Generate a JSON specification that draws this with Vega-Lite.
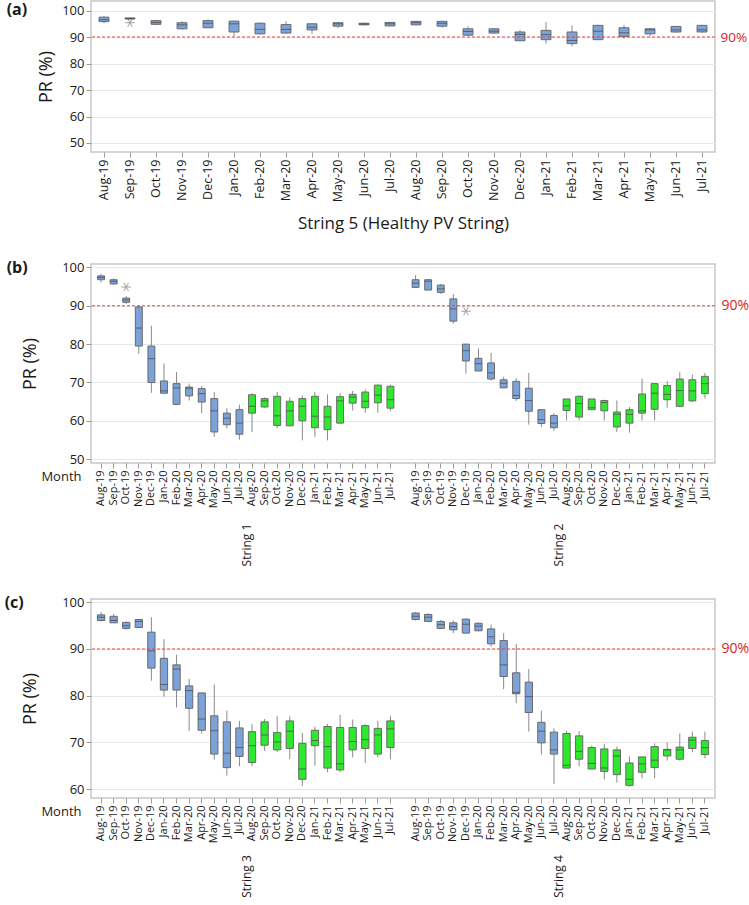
{
"$schema": "https://vega.github.io/schema/vega-lite/v6.json",
"padding": {"left": 3, "top": 0, "right": 0, "bottom": 0},
"spacing": 26,
"datasets": {
"string5": [
{"month":"Aug-19","min":95.3,"q1":95.8,"median":96.5,"q3":97.5,"max":98.0},
{"month":"Sep-19","min":96.6,"q1":96.8,"median":97.0,"q3":97.2,"max":97.3},
{"month":"Oct-19","min":94.5,"q1":94.8,"median":95.5,"q3":96.2,"max":96.5},
{"month":"Nov-19","min":92.9,"q1":93.1,"median":94.6,"q3":95.4,"max":95.9},
{"month":"Dec-19","min":93.4,"q1":93.5,"median":95.2,"q3":96.2,"max":96.6},
{"month":"Jan-20","min":90.2,"q1":91.9,"median":95.0,"q3":96.0,"max":96.2},
{"month":"Feb-20","min":91.0,"q1":91.2,"median":92.9,"q3":95.2,"max":95.5},
{"month":"Mar-20","min":91.2,"q1":91.5,"median":92.9,"q3":94.7,"max":96.0},
{"month":"Apr-20","min":91.2,"q1":92.7,"median":93.7,"q3":95.0,"max":95.2},
{"month":"May-20","min":93.4,"q1":94.1,"median":95.0,"q3":95.4,"max":95.7},
{"month":"Jun-20","min":94.4,"q1":94.6,"median":94.9,"q3":95.2,"max":95.4},
{"month":"Jul-20","min":94.0,"q1":94.2,"median":95.0,"q3":95.5,"max":95.7},
{"month":"Aug-20","min":94.4,"q1":94.6,"median":95.4,"q3":95.9,"max":96.2},
{"month":"Sep-20","min":93.5,"q1":94.1,"median":95.2,"q3":95.9,"max":96.2},
{"month":"Oct-20","min":90.5,"q1":90.7,"median":92.1,"q3":93.1,"max":94.0},
{"month":"Nov-20","min":91.2,"q1":91.5,"median":92.2,"q3":93.1,"max":93.4},
{"month":"Dec-20","min":88.5,"q1":88.6,"median":91.0,"q3":91.9,"max":92.7},
{"month":"Jan-21","min":87.5,"q1":89.0,"median":90.9,"q3":92.5,"max":95.6},
{"month":"Feb-21","min":86.5,"q1":87.5,"median":88.7,"q3":91.9,"max":94.4},
{"month":"Mar-21","min":89.0,"q1":89.0,"median":92.2,"q3":94.4,"max":94.6},
{"month":"Apr-21","min":89.4,"q1":90.2,"median":91.6,"q3":93.5,"max":94.6},
{"month":"May-21","min":90.2,"q1":91.2,"median":92.7,"q3":93.1,"max":93.5},
{"month":"Jun-21","min":91.6,"q1":91.9,"median":92.7,"q3":94.0,"max":94.2},
{"month":"Jul-21","min":91.5,"q1":91.9,"median":92.7,"q3":94.4,"max":94.6}
],
"faulty": [
{"string":"String 1","month":"Aug-19","year":"2019-20","min":96.1,"q1":96.8,"median":97.4,"q3":97.8,"max":98.3},
{"string":"String 1","month":"Sep-19","year":"2019-20","min":95.5,"q1":95.7,"median":96.4,"q3":96.8,"max":97.1},
{"string":"String 1","month":"Oct-19","year":"2019-20","min":90.5,"q1":90.9,"median":91.5,"q3":92.0,"max":92.5},
{"string":"String 1","month":"Nov-19","year":"2019-20","min":77.5,"q1":79.5,"median":84.2,"q3":89.7,"max":90.0},
{"string":"String 1","month":"Dec-19","year":"2019-20","min":67.3,"q1":70.0,"median":76.2,"q3":79.5,"max":84.8},
{"string":"String 1","month":"Jan-20","year":"2019-20","min":67.1,"q1":67.2,"median":67.8,"q3":70.4,"max":75.0},
{"string":"String 1","month":"Feb-20","year":"2019-20","min":64.1,"q1":64.3,"median":68.6,"q3":69.7,"max":72.7},
{"string":"String 1","month":"Mar-20","year":"2019-20","min":65.3,"q1":66.5,"median":68.5,"q3":68.8,"max":69.7},
{"string":"String 1","month":"Apr-20","year":"2019-20","min":62.0,"q1":64.9,"median":67.1,"q3":68.4,"max":69.1},
{"string":"String 1","month":"May-20","year":"2019-20","min":55.8,"q1":57.1,"median":62.6,"q3":65.8,"max":67.5},
{"string":"String 1","month":"Jun-20","year":"2019-20","min":58.0,"q1":59.0,"median":60.7,"q3":62.0,"max":63.3},
{"string":"String 1","month":"Jul-20","year":"2019-20","min":55.1,"q1":56.5,"median":59.4,"q3":62.9,"max":64.2},
{"string":"String 1","month":"Aug-20","year":"2020-21","min":57.1,"q1":62.0,"median":63.8,"q3":66.8,"max":67.2},
{"string":"String 1","month":"Sep-20","year":"2020-21","min":63.4,"q1":63.6,"median":65.2,"q3":65.8,"max":66.1},
{"string":"String 1","month":"Oct-20","year":"2020-21","min":58.1,"q1":58.8,"median":61.3,"q3":66.4,"max":67.5},
{"string":"String 1","month":"Nov-20","year":"2020-21","min":58.7,"q1":58.7,"median":62.6,"q3":65.1,"max":66.1},
{"string":"String 1","month":"Dec-20","year":"2020-21","min":54.9,"q1":60.0,"median":63.8,"q3":65.8,"max":66.6},
{"string":"String 1","month":"Jan-21","year":"2020-21","min":55.8,"q1":58.2,"median":61.2,"q3":66.4,"max":67.5},
{"string":"String 1","month":"Feb-21","year":"2020-21","min":54.9,"q1":57.7,"median":61.0,"q3":63.8,"max":66.9},
{"string":"String 1","month":"Mar-21","year":"2020-21","min":59.3,"q1":59.4,"median":65.2,"q3":66.3,"max":67.2},
{"string":"String 1","month":"Apr-21","year":"2020-21","min":62.7,"q1":64.6,"median":66.2,"q3":66.9,"max":67.8},
{"string":"String 1","month":"May-21","year":"2020-21","min":62.1,"q1":63.4,"median":65.1,"q3":67.5,"max":68.2},
{"string":"String 1","month":"Jun-21","year":"2020-21","min":62.1,"q1":64.7,"median":66.7,"q3":69.3,"max":69.5},
{"string":"String 1","month":"Jul-21","year":"2020-21","min":62.5,"q1":63.3,"median":65.5,"q3":69.0,"max":69.5},
{"string":"String 2","month":"Aug-19","year":"2019-20","min":94.6,"q1":94.8,"median":95.9,"q3":96.8,"max":98.0},
{"string":"String 2","month":"Sep-19","year":"2019-20","min":94.1,"q1":94.1,"median":96.4,"q3":96.8,"max":97.0},
{"string":"String 2","month":"Oct-19","year":"2019-20","min":93.1,"q1":93.5,"median":94.4,"q3":95.4,"max":95.7},
{"string":"String 2","month":"Nov-19","year":"2019-20","min":85.3,"q1":86.0,"median":89.2,"q3":91.8,"max":93.1},
{"string":"String 2","month":"Dec-19","year":"2019-20","min":72.3,"q1":75.6,"median":78.3,"q3":80.0,"max":80.0},
{"string":"String 2","month":"Jan-20","year":"2019-20","min":73.0,"q1":73.0,"median":74.9,"q3":76.3,"max":78.9},
{"string":"String 2","month":"Feb-20","year":"2019-20","min":70.5,"q1":70.9,"median":72.5,"q3":75.1,"max":77.7},
{"string":"String 2","month":"Mar-20","year":"2019-20","min":68.5,"q1":68.6,"median":69.8,"q3":70.7,"max":71.4},
{"string":"String 2","month":"Apr-20","year":"2019-20","min":65.2,"q1":65.8,"median":66.6,"q3":70.3,"max":71.1},
{"string":"String 2","month":"May-20","year":"2019-20","min":59.0,"q1":62.5,"median":65.3,"q3":68.5,"max":72.5},
{"string":"String 2","month":"Jun-20","year":"2019-20","min":58.4,"q1":59.3,"median":60.3,"q3":62.9,"max":62.9},
{"string":"String 2","month":"Jul-20","year":"2019-20","min":57.4,"q1":58.2,"median":59.4,"q3":61.4,"max":62.0},
{"string":"String 2","month":"Aug-20","year":"2020-21","min":60.1,"q1":62.7,"median":63.9,"q3":65.7,"max":65.7},
{"string":"String 2","month":"Sep-20","year":"2020-21","min":60.1,"q1":61.0,"median":64.5,"q3":66.4,"max":66.6},
{"string":"String 2","month":"Oct-20","year":"2020-21","min":62.9,"q1":62.9,"median":63.4,"q3":65.7,"max":65.7},
{"string":"String 2","month":"Nov-20","year":"2020-21","min":60.1,"q1":62.6,"median":64.8,"q3":65.3,"max":65.5},
{"string":"String 2","month":"Dec-20","year":"2020-21","min":57.1,"q1":58.4,"median":61.7,"q3":62.3,"max":65.3},
{"string":"String 2","month":"Jan-21","year":"2020-21","min":56.9,"q1":59.4,"median":61.7,"q3":62.9,"max":63.6},
{"string":"String 2","month":"Feb-21","year":"2020-21","min":60.1,"q1":62.0,"median":62.6,"q3":67.0,"max":71.0},
{"string":"String 2","month":"Mar-21","year":"2020-21","min":60.1,"q1":63.0,"median":67.2,"q3":69.7,"max":69.7},
{"string":"String 2","month":"Apr-21","year":"2020-21","min":63.4,"q1":65.5,"median":66.9,"q3":69.2,"max":70.4},
{"string":"String 2","month":"May-21","year":"2020-21","min":63.6,"q1":63.8,"median":67.9,"q3":70.9,"max":72.7},
{"string":"String 2","month":"Jun-21","year":"2020-21","min":64.9,"q1":65.2,"median":67.8,"q3":70.7,"max":72.1},
{"string":"String 2","month":"Jul-21","year":"2020-21","min":65.8,"q1":67.1,"median":69.7,"q3":71.6,"max":72.5},
{"string":"String 3","month":"Aug-19","year":"2019-20","min":95.9,"q1":96.1,"median":96.8,"q3":97.3,"max":97.9},
{"string":"String 3","month":"Sep-19","year":"2019-20","min":95.6,"q1":95.6,"median":96.1,"q3":97.0,"max":97.5},
{"string":"String 3","month":"Oct-19","year":"2019-20","min":94.1,"q1":94.4,"median":95.0,"q3":95.7,"max":95.9},
{"string":"String 3","month":"Nov-19","year":"2019-20","min":94.6,"q1":94.6,"median":95.9,"q3":96.3,"max":96.4},
{"string":"String 3","month":"Dec-19","year":"2019-20","min":83.2,"q1":85.9,"median":89.6,"q3":93.6,"max":96.8},
{"string":"String 3","month":"Jan-20","year":"2019-20","min":79.8,"q1":81.2,"median":82.4,"q3":88.0,"max":92.1},
{"string":"String 3","month":"Feb-20","year":"2019-20","min":77.5,"q1":81.2,"median":85.7,"q3":86.6,"max":88.8},
{"string":"String 3","month":"Mar-20","year":"2019-20","min":72.5,"q1":77.3,"median":81.1,"q3":82.1,"max":83.6},
{"string":"String 3","month":"Apr-20","year":"2019-20","min":71.9,"q1":72.6,"median":75.0,"q3":80.6,"max":80.6},
{"string":"String 3","month":"May-20","year":"2019-20","min":66.3,"q1":67.5,"median":72.5,"q3":75.7,"max":82.4},
{"string":"String 3","month":"Jun-20","year":"2019-20","min":62.9,"q1":64.6,"median":67.7,"q3":74.4,"max":76.8},
{"string":"String 3","month":"Jul-20","year":"2019-20","min":64.9,"q1":67.0,"median":68.9,"q3":73.1,"max":74.6},
{"string":"String 3","month":"Aug-20","year":"2020-21","min":64.9,"q1":65.7,"median":69.3,"q3":72.3,"max":73.9},
{"string":"String 3","month":"Sep-20","year":"2020-21","min":68.2,"q1":69.4,"median":71.6,"q3":74.4,"max":75.0},
{"string":"String 3","month":"Oct-20","year":"2020-21","min":67.9,"q1":68.4,"median":70.1,"q3":72.1,"max":75.6},
{"string":"String 3","month":"Nov-20","year":"2020-21","min":66.4,"q1":68.7,"median":72.4,"q3":74.6,"max":75.6},
{"string":"String 3","month":"Dec-20","year":"2020-21","min":60.7,"q1":62.1,"median":64.3,"q3":69.8,"max":72.0},
{"string":"String 3","month":"Jan-21","year":"2020-21","min":65.0,"q1":69.3,"median":70.4,"q3":72.6,"max":73.4},
{"string":"String 3","month":"Feb-21","year":"2020-21","min":63.6,"q1":64.5,"median":69.1,"q3":73.4,"max":73.9},
{"string":"String 3","month":"Mar-21","year":"2020-21","min":63.6,"q1":64.1,"median":65.4,"q3":73.2,"max":75.9},
{"string":"String 3","month":"Apr-21","year":"2020-21","min":66.8,"q1":68.4,"median":70.2,"q3":73.2,"max":74.9},
{"string":"String 3","month":"May-21","year":"2020-21","min":65.6,"q1":68.7,"median":70.6,"q3":73.6,"max":73.9},
{"string":"String 3","month":"Jun-21","year":"2020-21","min":66.8,"q1":67.5,"median":71.6,"q3":73.0,"max":74.6},
{"string":"String 3","month":"Jul-21","year":"2020-21","min":66.4,"q1":68.9,"median":72.9,"q3":74.6,"max":75.7},
{"string":"String 4","month":"Aug-19","year":"2019-20","min":96.1,"q1":96.3,"median":97.0,"q3":97.7,"max":97.9},
{"string":"String 4","month":"Sep-19","year":"2019-20","min":95.7,"q1":95.9,"median":96.8,"q3":97.4,"max":97.6},
{"string":"String 4","month":"Oct-19","year":"2019-20","min":94.4,"q1":94.4,"median":95.2,"q3":95.9,"max":96.2},
{"string":"String 4","month":"Nov-19","year":"2019-20","min":93.4,"q1":94.1,"median":94.8,"q3":95.6,"max":96.1},
{"string":"String 4","month":"Dec-19","year":"2019-20","min":93.3,"q1":93.4,"median":95.3,"q3":96.4,"max":96.5},
{"string":"String 4","month":"Jan-20","year":"2019-20","min":93.8,"q1":93.9,"median":94.9,"q3":95.5,"max":95.7},
{"string":"String 4","month":"Feb-20","year":"2019-20","min":90.5,"q1":91.1,"median":92.6,"q3":94.3,"max":95.2},
{"string":"String 4","month":"Mar-20","year":"2019-20","min":81.4,"q1":84.1,"median":86.6,"q3":91.8,"max":93.4},
{"string":"String 4","month":"Apr-20","year":"2019-20","min":78.4,"q1":80.4,"median":80.7,"q3":84.9,"max":91.1},
{"string":"String 4","month":"May-20","year":"2019-20","min":72.3,"q1":76.4,"median":79.8,"q3":82.9,"max":85.7},
{"string":"String 4","month":"Jun-20","year":"2019-20","min":67.4,"q1":69.9,"median":72.4,"q3":74.3,"max":76.8},
{"string":"String 4","month":"Jul-20","year":"2019-20","min":61.1,"q1":67.5,"median":68.4,"q3":72.2,"max":73.0},
{"string":"String 4","month":"Aug-20","year":"2020-21","min":64.5,"q1":64.5,"median":65.1,"q3":71.9,"max":72.5},
{"string":"String 4","month":"Sep-20","year":"2020-21","min":64.9,"q1":66.4,"median":68.1,"q3":71.4,"max":72.4},
{"string":"String 4","month":"Oct-20","year":"2020-21","min":64.3,"q1":64.3,"median":65.5,"q3":68.9,"max":69.3},
{"string":"String 4","month":"Nov-20","year":"2020-21","min":62.1,"q1":63.8,"median":64.5,"q3":68.6,"max":69.7},
{"string":"String 4","month":"Dec-20","year":"2020-21","min":61.4,"q1":63.1,"median":67.1,"q3":68.4,"max":69.1},
{"string":"String 4","month":"Jan-21","year":"2020-21","min":60.5,"q1":60.8,"median":62.1,"q3":65.6,"max":67.0},
{"string":"String 4","month":"Feb-21","year":"2020-21","min":62.3,"q1":63.6,"median":65.4,"q3":66.9,"max":66.9},
{"string":"String 4","month":"Mar-21","year":"2020-21","min":62.3,"q1":64.6,"median":66.2,"q3":69.1,"max":69.8},
{"string":"String 4","month":"Apr-21","year":"2020-21","min":66.1,"q1":67.1,"median":68.4,"q3":68.5,"max":70.0},
{"string":"String 4","month":"May-21","year":"2020-21","min":66.1,"q1":66.4,"median":68.4,"q3":69.0,"max":71.9},
{"string":"String 4","month":"Jun-21","year":"2020-21","min":67.9,"q1":68.7,"median":70.5,"q3":71.1,"max":72.3},
{"string":"String 4","month":"Jul-21","year":"2020-21","min":66.6,"q1":67.4,"median":68.9,"q3":70.4,"max":72.3}
],
"outliers": [
{"string":"String 5","month":"Sep-19","value":95.4},
{"string":"String 1","month":"Oct-19","value":94.9},
{"string":"String 2","month":"Dec-19","value":88.6}
],
"threshold": [{"pr": 90}]
},
"vconcat": [
{
"width": 624, "height": 151,
"title": {"text": "(a)", "anchor": "start", "frame": "bounds", "baseline": "top", "offset": -17, "dx": -31},
"layer": [
{"layer": [
{"data": {"name": "string5"},
 "encoding": {"x": {"field": "month", "type": "nominal", "title": "String 5 (Healthy PV String)", "scale": {"domain": ["Aug-19","Sep-19","Oct-19","Nov-19","Dec-19","Jan-20","Feb-20","Mar-20","Apr-20","May-20","Jun-20","Jul-20","Aug-20","Sep-20","Oct-20","Nov-20","Dec-20","Jan-21","Feb-21","Mar-21","Apr-21","May-21","Jun-21","Jul-21"], "paddingInner": 0, "paddingOuter": 0}, "axis": {"labelAngle": 270, "labelFontSize": 12.5, "titleFontSize": 17, "titlePadding": 14, "tickSize": 5, "labelPadding": 2}}},
 "layer": [
  {"mark": {"type": "rule", "color": "#8a8a8a"}, "encoding": {"y": {"field": "min", "type": "quantitative", "title": "PR (%)", "scale": {"domain": [46.6, 103.6], "nice": false, "zero": false}, "axis": {"values": [50, 60, 70, 80, 90, 100], "tickCount": 12, "labelOverlap": false, "titleFontSize": 18, "labelFontSize": 13, "titlePadding": 6, "tickSize": 5}}, "y2": {"field": "max"}}},
  {"mark": {"type": "bar", "width": {"band": 0.38}, "color": "#7ba3d9", "stroke": "#6a6a6a", "strokeWidth": 1}, "encoding": {"y": {"field": "q1", "type": "quantitative", "title": "PR (%)"}, "y2": {"field": "q3"}}},
  {"mark": {"type": "tick", "size": 10, "thickness": 1, "color": "#444444"}, "encoding": {"y": {"field": "median", "type": "quantitative", "title": "PR (%)"}}}
 ]},
{"data": {"name": "outliers"}, "transform": [{"filter": "datum.string === 'String 5'"}],
 "mark": {"type": "point", "shape": "M-1,0L1,0M-0.5,-0.866L0.5,0.866M-0.5,0.866L0.5,-0.866", "filled": false, "stroke": "#777777", "strokeWidth": 1, "size": 90},
 "encoding": {"x": {"field": "month", "type": "nominal", "title": "String 5 (Healthy PV String)", "axis": {"labelAngle": 270, "labelFontSize": 12.5, "titleFontSize": 17, "titlePadding": 14, "tickSize": 5, "labelPadding": 2}},
   "y": {"field": "value", "type": "quantitative", "title": "PR (%)", "axis": {"values": [50, 60, 70, 80, 90, 100], "tickCount": 12, "labelOverlap": false, "titleFontSize": 18, "labelFontSize": 13, "titlePadding": 6, "tickSize": 5}}}}
]},
{"data": {"name": "threshold"},
 "mark": {"type": "rule", "color": "#e8403a", "strokeDash": [3, 2], "strokeWidth": 1},
 "encoding": {"y": {"field": "pr", "type": "quantitative", "scale": {"domain": [46.6, 103.6], "nice": false, "zero": false}, "axis": {"orient": "right", "values": [90], "labelExpr": "'90%'", "labelColor": "#d81e1e", "labelFontSize": 13.5, "ticks": false, "grid": false, "title": null, "labelPadding": 5}}}}
],
"resolve": {"scale": {"y": "independent"}}
},
{
"width": 624, "height": 199,
"title": {"text": "(b)", "anchor": "start", "frame": "bounds", "baseline": "top", "offset": -15, "dx": -15},
"layer": [
{"layer": [
{"data": {"name": "faulty"},
 "transform": [{"filter": "datum.string === 'String 1' || datum.string === 'String 2'"}, {"calculate": "datum.string + '|' + datum.month", "as": "key"}],
 "encoding": {"x": {"field": "key", "type": "nominal", "title": "Month",
   "scale": {"domain": ["String 1|Aug-19","String 1|Sep-19","String 1|Oct-19","String 1|Nov-19","String 1|Dec-19","String 1|Jan-20","String 1|Feb-20","String 1|Mar-20","String 1|Apr-20","String 1|May-20","String 1|Jun-20","String 1|Jul-20","String 1|Aug-20","String 1|Sep-20","String 1|Oct-20","String 1|Nov-20","String 1|Dec-20","String 1|Jan-21","String 1|Feb-21","String 1|Mar-21","String 1|Apr-21","String 1|May-21","String 1|Jun-21","String 1|Jul-21"," ","String 2|Aug-19","String 2|Sep-19","String 2|Oct-19","String 2|Nov-19","String 2|Dec-19","String 2|Jan-20","String 2|Feb-20","String 2|Mar-20","String 2|Apr-20","String 2|May-20","String 2|Jun-20","String 2|Jul-20","String 2|Aug-20","String 2|Sep-20","String 2|Oct-20","String 2|Nov-20","String 2|Dec-20","String 2|Jan-21","String 2|Feb-21","String 2|Mar-21","String 2|Apr-21","String 2|May-21","String 2|Jun-21","String 2|Jul-21"], "paddingInner": 0, "paddingOuter": 0.3},
   "axis": {"labelAngle": 270, "labelFontSize": 11, "labelExpr": "indexof(datum.label, '|') > 0 ? split(datum.label, '|')[1] : ''", "titleAngle": 0, "titleAlign": "right", "titleBaseline": "top", "titleX": -10, "titleY": 7, "titleFontSize": 13, "tickSize": 5, "labelPadding": 2,
     "gridOpacity": {"condition": {"test": "datum.value === ' '", "value": 0}, "value": 1},
     "tickOpacity": {"condition": {"test": "datum.value === ' '", "value": 0}, "value": 1}}}},
 "layer": [
  {"mark": {"type": "rule", "color": "#8a8a8a"}, "encoding": {"y": {"field": "min", "type": "quantitative", "title": "PR (%)", "scale": {"domain": [49, 100.9], "nice": false, "zero": false}, "axis": {"values": [50, 60, 70, 80, 90, 100], "tickCount": 12, "labelOverlap": false, "titleFontSize": 18, "labelFontSize": 13, "titlePadding": 22, "tickSize": 5}}, "y2": {"field": "max"}}},
  {"mark": {"type": "bar", "width": {"band": 0.55}, "stroke": "#6a6a6a", "strokeWidth": 1}, "encoding": {"y": {"field": "q1", "type": "quantitative", "title": "PR (%)"}, "y2": {"field": "q3"}, "color": {"field": "year", "type": "nominal", "scale": {"domain": ["2019-20", "2020-21"], "range": ["#7ba3d9", "#2ee82e"]}, "legend": null}}},
  {"mark": {"type": "tick", "size": 7, "thickness": 1, "color": "#444444"}, "encoding": {"y": {"field": "median", "type": "quantitative", "title": "PR (%)"}}}
 ]},
{"data": {"name": "outliers"}, "transform": [{"filter": "datum.string === 'String 1' || datum.string === 'String 2'"}, {"calculate": "datum.string + '|' + datum.month", "as": "key"}],
 "mark": {"type": "point", "shape": "M-1,0L1,0M-0.5,-0.866L0.5,0.866M-0.5,0.866L0.5,-0.866", "filled": false, "stroke": "#777777", "strokeWidth": 1, "size": 90},
 "encoding": {"x": {"field": "key", "type": "nominal", "title": "Month",
   "axis": {"labelAngle": 270, "labelFontSize": 11, "labelExpr": "indexof(datum.label, '|') > 0 ? split(datum.label, '|')[1] : ''", "titleAngle": 0, "titleAlign": "right", "titleBaseline": "top", "titleX": -10, "titleY": 7, "titleFontSize": 13, "tickSize": 5, "labelPadding": 2,
     "gridOpacity": {"condition": {"test": "datum.value === ' '", "value": 0}, "value": 1},
     "tickOpacity": {"condition": {"test": "datum.value === ' '", "value": 0}, "value": 1}}},
   "y": {"field": "value", "type": "quantitative", "title": "PR (%)", "axis": {"values": [50, 60, 70, 80, 90, 100], "tickCount": 12, "labelOverlap": false, "titleFontSize": 18, "labelFontSize": 13, "titlePadding": 22, "tickSize": 5}}}}
]},
{"data": {"values": [{"string": "String 1"}, {"string": "String 2"}]},
 "mark": {"type": "text", "angle": 270, "fontSize": 12, "color": "#1a1a1a"},
 "encoding": {"x": {"field": "string", "type": "nominal", "scale": {"paddingInner": 0, "paddingOuter": 0}, "axis": null}, "y": {"datum": 27.6, "type": "quantitative", "scale": {"domain": [49, 100.9], "nice": false, "zero": false}, "axis": null}, "text": {"field": "string"}}},
{"data": {"name": "threshold"},
 "mark": {"type": "rule", "color": "#e8403a", "strokeDash": [3, 2], "strokeWidth": 1},
 "encoding": {"y": {"field": "pr", "type": "quantitative", "scale": {"domain": [49, 100.9], "nice": false, "zero": false}, "axis": {"orient": "right", "values": [90], "labelExpr": "'90%'", "labelColor": "#d81e1e", "labelFontSize": 14, "ticks": false, "grid": false, "title": null, "labelPadding": 6}}}}
],
"resolve": {"scale": {"x": "independent", "y": "independent"}}
},
{
"width": 624, "height": 199,
"title": {"text": "(c)", "anchor": "start", "frame": "bounds", "baseline": "top", "offset": -15, "dx": -17},
"layer": [
{"layer": [
{"data": {"name": "faulty"},
 "transform": [{"filter": "datum.string === 'String 3' || datum.string === 'String 4'"}, {"calculate": "datum.string + '|' + datum.month", "as": "key"}],
 "encoding": {"x": {"field": "key", "type": "nominal", "title": "Month",
   "scale": {"domain": ["String 3|Aug-19","String 3|Sep-19","String 3|Oct-19","String 3|Nov-19","String 3|Dec-19","String 3|Jan-20","String 3|Feb-20","String 3|Mar-20","String 3|Apr-20","String 3|May-20","String 3|Jun-20","String 3|Jul-20","String 3|Aug-20","String 3|Sep-20","String 3|Oct-20","String 3|Nov-20","String 3|Dec-20","String 3|Jan-21","String 3|Feb-21","String 3|Mar-21","String 3|Apr-21","String 3|May-21","String 3|Jun-21","String 3|Jul-21"," ","String 4|Aug-19","String 4|Sep-19","String 4|Oct-19","String 4|Nov-19","String 4|Dec-19","String 4|Jan-20","String 4|Feb-20","String 4|Mar-20","String 4|Apr-20","String 4|May-20","String 4|Jun-20","String 4|Jul-20","String 4|Aug-20","String 4|Sep-20","String 4|Oct-20","String 4|Nov-20","String 4|Dec-20","String 4|Jan-21","String 4|Feb-21","String 4|Mar-21","String 4|Apr-21","String 4|May-21","String 4|Jun-21","String 4|Jul-21"], "paddingInner": 0, "paddingOuter": 0.3},
   "axis": {"labelAngle": 270, "labelFontSize": 11, "labelExpr": "indexof(datum.label, '|') > 0 ? split(datum.label, '|')[1] : ''", "titleAngle": 0, "titleAlign": "right", "titleBaseline": "top", "titleX": -10, "titleY": 7, "titleFontSize": 13, "tickSize": 5, "labelPadding": 2,
     "gridOpacity": {"condition": {"test": "datum.value === ' '", "value": 0}, "value": 1},
     "tickOpacity": {"condition": {"test": "datum.value === ' '", "value": 0}, "value": 1}}}},
 "layer": [
  {"mark": {"type": "rule", "color": "#8a8a8a"}, "encoding": {"y": {"field": "min", "type": "quantitative", "title": "PR (%)", "scale": {"domain": [58.1, 100.7], "nice": false, "zero": false}, "axis": {"values": [60, 70, 80, 90, 100], "tickCount": 12, "labelOverlap": false, "titleFontSize": 18, "labelFontSize": 13, "titlePadding": 22, "tickSize": 5}}, "y2": {"field": "max"}}},
  {"mark": {"type": "bar", "width": {"band": 0.58}, "stroke": "#6a6a6a", "strokeWidth": 1}, "encoding": {"y": {"field": "q1", "type": "quantitative", "title": "PR (%)"}, "y2": {"field": "q3"}, "color": {"field": "year", "type": "nominal", "scale": {"domain": ["2019-20", "2020-21"], "range": ["#7ba3d9", "#2ee82e"]}, "legend": null}}},
  {"mark": {"type": "tick", "size": 7.4, "thickness": 1, "color": "#444444"}, "encoding": {"y": {"field": "median", "type": "quantitative", "title": "PR (%)"}}}
 ]}
]},
{"data": {"values": [{"string": "String 3"}, {"string": "String 4"}]},
 "mark": {"type": "text", "angle": 270, "fontSize": 12, "color": "#1a1a1a"},
 "encoding": {"x": {"field": "string", "type": "nominal", "scale": {"paddingInner": 0, "paddingOuter": 0}, "axis": null}, "y": {"datum": 41.3, "type": "quantitative", "scale": {"domain": [58.1, 100.7], "nice": false, "zero": false}, "axis": null}, "text": {"field": "string"}}},
{"data": {"name": "threshold"},
 "mark": {"type": "rule", "color": "#e8403a", "strokeDash": [3, 2], "strokeWidth": 1},
 "encoding": {"y": {"field": "pr", "type": "quantitative", "scale": {"domain": [58.1, 100.7], "nice": false, "zero": false}, "axis": {"orient": "right", "values": [90], "labelExpr": "'90%'", "labelColor": "#d81e1e", "labelFontSize": 14, "ticks": false, "grid": false, "title": null, "labelPadding": 6}}}}
],
"resolve": {"scale": {"x": "independent", "y": "independent"}}
}
],
"config": {
"font": "Open Sans",
"view": {"stroke": "#c8c8c8", "strokeWidth": 1.5},
"axis": {"domain": false, "gridColor": "#e8e8e8", "tickColor": "#9a9a9a", "labelColor": "#1a1a1a", "titleColor": "#1a1a1a", "titleFontWeight": "normal", "labelFont": "Open Sans", "titleFont": "Open Sans"},
"title": {"font": "Open Sans", "fontWeight": "bold", "fontSize": 16, "color": "#1a1a1a"}
}
}
